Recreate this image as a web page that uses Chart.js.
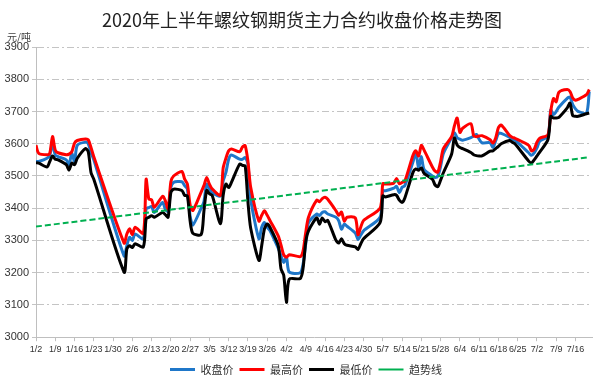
<!DOCTYPE html>
<html>
<head>
<meta charset="utf-8">
<script src="https://cdn.jsdelivr.net/npm/chart.js@4"></script>
<style>
  body { margin: 0; background: #fff; }
  #wrap { width: 600px; height: 385px; }
</style>
</head>
<body>
<div id="wrap"><canvas id="chart"></canvas></div>
<script>
// trading days (2020) and daily prices, yuan/ton
const tradeDates = [
  '1/2','1/3','1/6','1/7','1/8','1/9','1/10','1/13','1/14','1/15','1/16','1/17','1/20','1/21','1/22','1/23',
  '2/3','2/4','2/5','2/6','2/7','2/10','2/11','2/12','2/13','2/14','2/17','2/18','2/19','2/20','2/21','2/24','2/25','2/26','2/27','2/28',
  '3/2','3/3','3/4','3/5','3/6','3/9','3/10','3/11','3/12','3/13','3/16','3/17','3/18','3/19','3/20','3/23','3/24','3/25','3/26','3/27','3/30','3/31',
  '4/1','4/2','4/3','4/7','4/8','4/9','4/10','4/13','4/14','4/15','4/16','4/17','4/20','4/21','4/22','4/23','4/24','4/27','4/28','4/29','4/30',
  '5/6','5/7','5/8','5/11','5/12','5/13','5/14','5/15','5/18','5/19','5/20','5/21','5/22','5/25','5/26','5/27','5/28','5/29',
  '6/1','6/2','6/3','6/4','6/5','6/8','6/9','6/10','6/11','6/12','6/15','6/16','6/17','6/18','6/19','6/22','6/23','6/24','6/29','6/30',
  '7/1','7/2','7/3','7/6','7/7','7/8','7/9','7/10','7/13','7/14','7/15','7/16','7/17','7/20','7/21'
];

const closePrice = [
  3545,3545,3555,3565,3600,3565,3560,3550,3535,3570,3545,3595,3605,3600,3572,3550,
  3252,3284,3310,3300,3320,3305,3398,3402,3405,3387,3418,3397,3390,3464,3480,3482,3470,3460,3375,3348,
  3400,3420,3475,3460,3448,3438,3485,3511,3552,3565,3552,3552,3557,3536,3428,3305,3341,3356,3341,3331,3276,3253,
  3232,3248,3202,3200,3225,3290,3355,3382,3377,3387,3389,3382,3372,3361,3335,3351,3344,3323,3303,3317,3330,
  3372,3454,3454,3462,3468,3448,3465,3470,3545,3575,3525,3560,3520,3500,3495,3500,3530,3570,
  3619,3634,3619,3614,3611,3619,3624,3629,3614,3603,3603,3588,3609,3632,3632,3620,3613,3611,3572,3564,
  3572,3587,3608,3623,3705,3690,3700,3714,3741,3745,3721,3708,3700,3695,3762
];

const highPrice = [
  3595,3570,3566,3570,3622,3580,3572,3566,3568,3575,3602,3610,3615,3612,3588,3560,
  3292,3320,3336,3318,3341,3322,3490,3428,3426,3403,3437,3423,3397,3482,3500,3514,3490,3475,3410,3393,
  3450,3470,3495,3475,3460,3440,3525,3555,3578,3584,3575,3590,3594,3545,3465,3360,3378,3392,3378,3362,3314,3286,
  3255,3248,3256,3250,3266,3325,3372,3425,3420,3430,3434,3428,3392,3378,3388,3360,3372,3370,3318,3342,3362,
  3400,3476,3475,3478,3492,3476,3480,3484,3565,3578,3562,3595,3580,3528,3515,3512,3545,3585,
  3622,3655,3680,3635,3648,3662,3625,3622,3624,3625,3612,3602,3618,3650,3658,3626,3620,3617,3595,3578,
  3583,3605,3617,3628,3700,3740,3730,3760,3768,3762,3742,3735,3738,3752,3768
];

const lowPrice = [
  3541,3540,3528,3545,3562,3552,3550,3535,3518,3540,3535,3555,3585,3575,3510,3490,
  3202,3274,3284,3278,3290,3280,3367,3372,3377,3372,3387,3380,3372,3449,3459,3455,3440,3438,3360,3322,
  3318,3390,3455,3445,3440,3352,3440,3475,3464,3480,3537,3533,3531,3420,3338,3238,3284,3336,3351,3341,3284,3212,
  3192,3108,3180,3182,3212,3295,3330,3370,3350,3370,3358,3362,3300,3292,3305,3290,3285,3280,3272,3290,3305,
  3355,3438,3435,3442,3440,3425,3418,3432,3512,3522,3518,3525,3508,3490,3472,3467,3487,3510,
  3568,3618,3596,3588,3585,3573,3566,3563,3562,3562,3577,3578,3585,3592,3600,3610,3605,3600,3546,3540,
  3550,3562,3574,3613,3685,3680,3680,3682,3711,3726,3687,3685,3685,3693,3695
];

// trend line values at first and last trading day
const trendEnds = [3343, 3558];

const tickLabels = ['1/2','1/9','1/16','1/23','1/30','2/6','2/13','2/20','2/27','3/5','3/12','3/19','3/26',
  '4/2','4/9','4/16','4/23','4/30','5/7','5/14','5/21','5/28','6/4','6/11','6/18','6/25','7/2','7/9','7/16'];

// days since 1/2
function dayIndex(s) {
  const [m, d] = s.split('/').map(Number);
  return Math.round((new Date(2020, m - 1, d) - new Date(2020, 0, 2)) / 86400000);
}

const xs = tradeDates.map(dayIndex);
const toPoints = arr => arr.map((v, i) => ({ x: xs[i], y: v }));

// unit text above the y axis, and nudge title/legend to the page centre
const extras = {
  id: 'extras',
  afterLayout(chart) {
    chart.titleBlock.left += 6;
    chart.titleBlock.right += 6;
    chart.legend.left += 10;
    chart.legend.right += 10;
  },
  afterDraw(chart) {
    const c = chart.ctx;
    c.save();
    c.font = '10px "Noto Sans CJK SC"';
    c.fillStyle = '#404040';
    c.textBaseline = 'middle';
    c.fillText('元/吨', 7, 37);
    c.restore();
  }
};

const lineStyle = { pointRadius: 0, tension: 0.25, fill: false };

const ctx = document.getElementById('chart').getContext('2d');
new Chart(ctx, {
  type: 'line',
  data: {
    datasets: [
      { label: '收盘价', data: toPoints(closePrice), borderColor: '#1f77c9', borderWidth: 3, order: 4, ...lineStyle },
      { label: '最高价', data: toPoints(highPrice), borderColor: '#ff0000', borderWidth: 3, order: 3, ...lineStyle },
      { label: '最低价', data: toPoints(lowPrice), borderColor: '#000000', borderWidth: 3, order: 2, ...lineStyle },
      {
        label: '趋势线',
        data: [{ x: xs[0], y: trendEnds[0] }, { x: xs[xs.length - 1], y: trendEnds[1] }],
        borderColor: '#00b050', borderWidth: 2, borderDash: [6, 3], order: 1, ...lineStyle
      }
    ]
  },
  options: {
    responsive: true,
    maintainAspectRatio: false,
    animation: false,
    layout: { padding: { left: 0, right: 8, top: 0, bottom: 0 } },
    scales: {
      x: {
        type: 'linear',
        min: 0,
        max: 202,
        afterBuildTicks: scale => {
          scale.ticks = tickLabels.map(t => ({ value: dayIndex(t) }));
        },
        ticks: {
          autoSkip: false,
          maxRotation: 0,
          padding: 3,
          color: '#333',
          font: { family: 'Liberation Sans', size: 9 },
          callback: (value, index) => tickLabels[index]
        },
        grid: { drawOnChartArea: false, drawTicks: true, tickLength: 4, color: '#bfbfbf' },
        border: { color: '#bfbfbf' }
      },
      y: {
        min: 3000,
        max: 3900,
        afterFit: scale => { scale.width = 36; },
        ticks: {
          stepSize: 100,
          padding: 3,
          color: '#333',
          font: { family: 'Liberation Sans', size: 11 },
          callback: value => String(value)
        },
        grid: { color: '#c4c4c4', tickLength: 4 },
        border: { color: '#bfbfbf', dash: [7, 3, 2, 3] }
      }
    },
    plugins: {
      title: {
        display: true,
        text: '2020年上半年螺纹钢期货主力合约收盘价格走势图',
        color: '#222',
        font: { family: '"Noto Sans CJK SC"', size: 18, weight: 'normal' },
        padding: { top: 9, bottom: 16.4 }
      },
      legend: {
        position: 'bottom',
        labels: {
          usePointStyle: true,
          pointStyle: 'line',
          pointStyleWidth: 25,
          boxHeight: 11,
          padding: 6,
          color: '#333',
          font: { family: '"Noto Sans CJK SC"', size: 11 },
          sort: (a, b) => a.datasetIndex - b.datasetIndex
        }
      },
      tooltip: { enabled: false }
    }
  },
  plugins: [extras]
});
</script>
</body>
</html>
